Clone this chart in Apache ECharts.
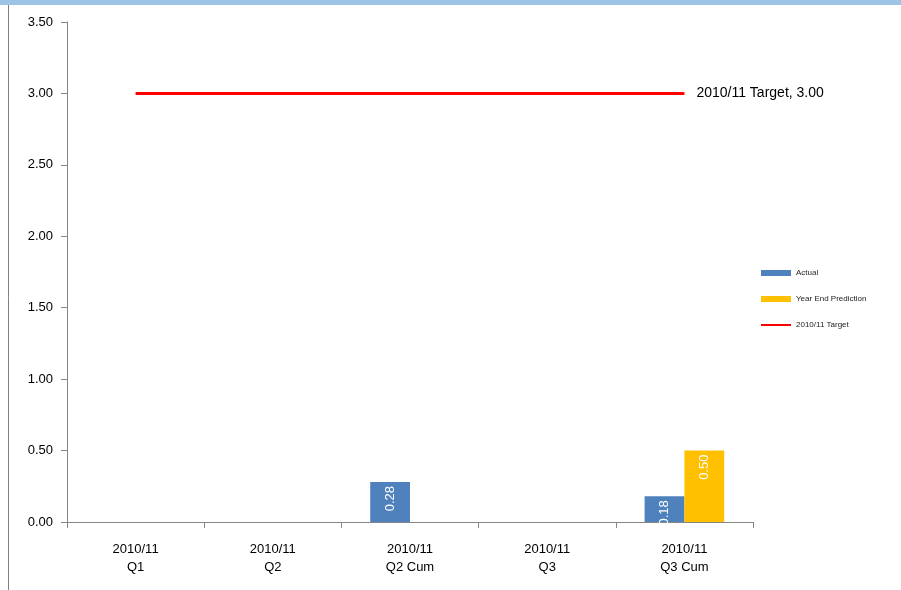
<!DOCTYPE html>
<html>
<head>
<meta charset="utf-8">
<script src="https://cdn.jsdelivr.net/npm/echarts@6/dist/echarts.min.js"></script>
<style>
  html, body { margin: 0; padding: 0; background: #fff; }
  #chart { width: 901px; height: 590px; }
</style>
</head>
<body>
<div id="chart"></div>
<script>
var categories = ['2010/11\nQ1', '2010/11\nQ2', '2010/11\nQ2 Cum', '2010/11\nQ3', '2010/11\nQ3 Cum'];
var actual = [null, null, 0.28, null, 0.18];
var prediction = [null, null, null, null, 0.50];
var target = [3.00, 3.00, 3.00, 3.00, 3.00];

var font = 'Liberation Sans, Noto Sans, sans-serif';

var chart = echarts.init(document.getElementById('chart'));

var barLabel = {
    show: true,
    position: 'insideTop',
    rotate: 90,
    align: 'right',
    verticalAlign: 'middle',
    distance: 4,
    color: '#fff',
    fontSize: 13,
    fontFamily: font,
    formatter: function (p) { return p.value.toFixed(2); }
};

var option = {
    animation: false,
    textStyle: { fontFamily: font },
    graphic: [
        { type: 'rect', shape: { x: 0, y: 0, width: 901, height: 5 }, style: { fill: '#9dc3e6' } },
        { type: 'line', shape: { x1: 8.5, y1: 5, x2: 8.5, y2: 590 }, style: { stroke: '#808080', lineWidth: 1 } }
    ],
    grid: { left: 67, right: 148, top: 22, bottom: 68 },
    legend: {
        orient: 'vertical',
        left: 756,
        top: 264,
        itemWidth: 30,
        itemHeight: 6,
        itemGap: 18,
        textStyle: { fontSize: 8, color: '#222', fontFamily: font },
        data: [
            { name: 'Actual', icon: 'rect' },
            { name: 'Year End Prediction', icon: 'rect' },
            { name: '2010/11 Target', icon: 'path://M0,0L30,0L30,2L0,2Z' }
        ]
    },
    xAxis: {
        type: 'category',
        data: categories,
        axisLine: { lineStyle: { color: '#868686' } },
        axisTick: { show: true, length: 6, lineStyle: { color: '#868686' } },
        axisLabel: { color: '#000', fontSize: 13, lineHeight: 18, margin: 18, fontFamily: font }
    },
    yAxis: {
        type: 'value',
        min: 0,
        max: 3.5,
        interval: 0.5,
        splitLine: { show: false },
        axisLine: { show: true, lineStyle: { color: '#868686' } },
        axisTick: { show: true, length: 6, lineStyle: { color: '#868686' } },
        axisLabel: {
            color: '#000', fontSize: 13, margin: 14, fontFamily: font,
            formatter: function (v) { return v.toFixed(2); }
        }
    },
    series: [
        {
            name: 'Actual',
            type: 'bar',
            data: actual,
            barGap: '0%',
            barCategoryGap: '42%',
            itemStyle: { color: '#4f81bd' },
            label: barLabel
        },
        {
            name: 'Year End Prediction',
            type: 'bar',
            data: prediction,
            itemStyle: { color: '#ffc000' },
            label: barLabel
        },
        {
            name: '2010/11 Target',
            type: 'line',
            data: target,
            symbol: 'none',
            lineStyle: { color: '#ff0000', width: 3 },
            itemStyle: { color: '#ff0000' },
            endLabel: {
                show: true,
                distance: 12,
                fontSize: 14,
                color: '#000',
                fontFamily: font,
                formatter: function (p) { return p.seriesName + ', ' + p.value.toFixed(2); }
            }
        }
    ]
};

chart.setOption(option);
</script>
</body>
</html>
